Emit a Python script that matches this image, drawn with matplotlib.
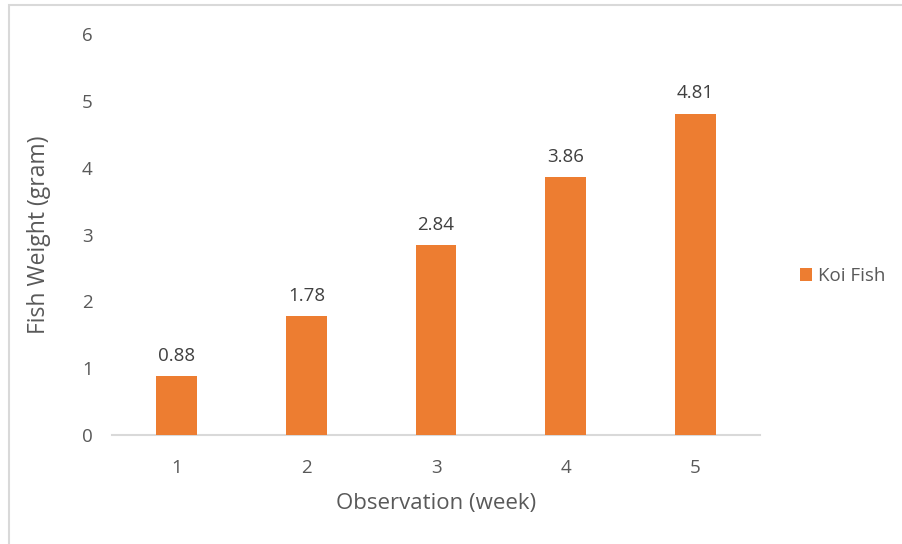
import matplotlib
matplotlib.use("Agg")
import matplotlib.pyplot as plt
from matplotlib.patches import Rectangle

weeks = ["1", "2", "3", "4", "5"]
weights = [0.88, 1.78, 2.84, 3.86, 4.81]
series_name = "Koi Fish"

plt.rcParams['font.family'] = ['Open Sans', 'DejaVu Sans']
text_color = "#595959"
bar_color = "#ED7D31"

fig = plt.figure(figsize=(9.02, 5.44), dpi=100)
ax = fig.add_axes([112 / 902, 1 - 435 / 544, (760 - 112) / 902, (435 - 34) / 544])

x = range(len(weeks))
bars = ax.bar(x, weights, width=0.316, color=bar_color, label=series_name, zorder=3)
for xi, v in zip(x, weights):
    ax.annotate(f"{v:.2f}", (xi, v), xytext=(0, 8), textcoords="offset points",
                ha="center", va="bottom", fontsize=13.5, color="#404040")

ax.set_xlim(-0.5, len(weeks) - 0.5)
ax.set_ylim(0, 6)
ax.set_yticks(range(0, 7))
ax.set_xticks(list(x))
ax.set_xticklabels(weeks)
ax.tick_params(axis="both", length=0, labelsize=13.5, colors=text_color)
ax.tick_params(axis="y", pad=14)
ax.tick_params(axis="x", pad=17)

for side in ["top", "right", "left"]:
    ax.spines[side].set_visible(False)
ax.spines["bottom"].set_color("#D9D9D9")
ax.spines["bottom"].set_linewidth(1.5)

ax.set_xlabel("Observation (week)", fontsize=16, color=text_color, labelpad=12)
ax.set_ylabel("Fish Weight (gram)", fontsize=16.5, color=text_color, labelpad=22)

leg = fig.legend(handles=[bars], labels=[series_name], loc="center left",
                 bbox_to_anchor=(783 / 902, 1 - 276 / 544), frameon=False,
                 fontsize=13.5, handlelength=0.65, handleheight=0.65, handletextpad=0.3)
for t in leg.get_texts():
    t.set_color(text_color)

# outer chart frame
fig.patches.append(Rectangle((9 / 902, -0.1), 1.2, 1.1 - 5.5 / 544,
                             transform=fig.transFigure, fill=False,
                             edgecolor="#D9D9D9", linewidth=1.5))

fig.savefig("out.png", dpi=100)
